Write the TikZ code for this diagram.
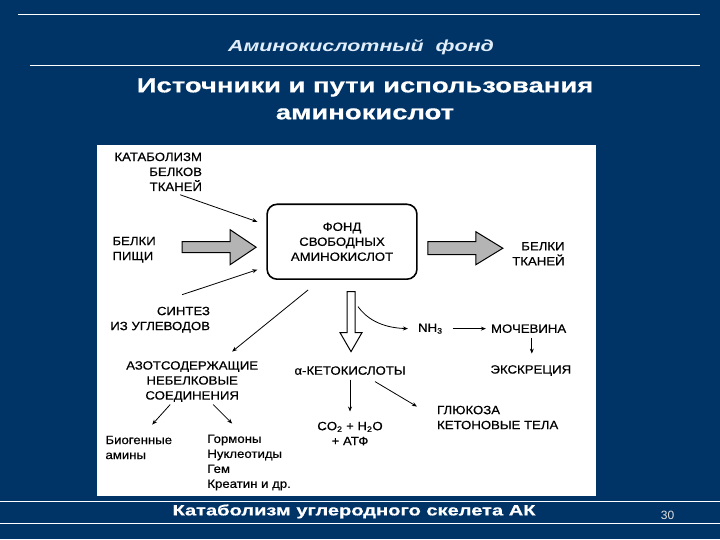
\documentclass[tikz,border=0pt]{standalone}
\usepackage{fontspec}
\setmainfont{Liberation Sans}
\newfontfamily\diagfont{Liberation Sans}[FakeStretch=1.1, FakeBold=0.4]
\newfontfamily\headfont{Liberation Sans Bold}[FakeStretch=1.34, FakeBold=0.6]
\newfontfamily\titlefont{Liberation Sans Bold Italic}[FakeStretch=1.34]
\usepackage{xcolor}
\usetikzlibrary{positioning,arrows.meta,calc}

\definecolor{slidebg}{RGB}{0,51,102}
\definecolor{titlefg}{RGB}{225,238,250}
\definecolor{blockgray}{RGB}{180,180,180}

\begin{document}
\begin{tikzpicture}[
  x=1pt, y=-1pt,
  every node/.style={font=\diagfont\fontsize{12}{15}\selectfont},
  lbl/.style={inner sep=0pt, align=center},
  fundbox/.style={
    draw=black, line width=1.6pt, rounded corners=10pt,
    minimum width=150pt, minimum height=75pt,
    align=center, inner sep=0pt, fill=white
  },
  arr/.style={-{Stealth[length=5pt,width=4pt]}, line width=0.8pt},
  bigarr/.style={draw=black, line width=1pt, fill=blockgray},
  hollowarr/.style={draw=black, line width=1pt, fill=white},
  rule/.style={draw=white, line width=0.8pt}
]
  % Slide background and white panel
  \fill[slidebg] (0,0) rectangle (720,540);
  \fill[white] (97,145) rectangle (596,497);

  % Header
  \draw[rule] (18,14) -- (700,14);
  \node[lbl, text=titlefg, font=\titlefont\fontsize{16}{18}\selectfont] (title) at (361,47) {Аминокислотный\ \ фонд};
  \draw[rule] (30,65) -- (700,65);
  \node[lbl, text=white, font=\headfont\fontsize{20.5}{27}\selectfont] (head) at (365,99) {Источники и пути использования\\аминокислот};

  % Sources
  \node[lbl, anchor=east, align=right] (kat) at (202,172) {КАТАБОЛИЗМ\\БЕЛКОВ\\ТКАНЕЙ};
  \node[lbl, anchor=west, align=left] (food) at (112,250) {БЕЛКИ\\ПИЩИ};
  \node[lbl, anchor=east, align=right] (syn) at (210,320) {СИНТЕЗ\\ИЗ УГЛЕВОДОВ};

  % Pool
  \node[fundbox] (fund) at (342,242) {ФОНД\\СВОБОДНЫХ\\АМИНОКИСЛОТ};

  % Uses
  \node[lbl, anchor=east, align=right] (tis) at (565,254) {БЕЛКИ\\ТКАНЕЙ};
  \node[lbl] (nitro) at (192,382) {АЗОТСОДЕРЖАЩИЕ\\НЕБЕЛКОВЫЕ\\СОЕДИНЕНИЯ};
  \node[lbl, anchor=west, align=left] (amines) at (105,448) {Биогенные\\амины};
  \node[lbl, anchor=west, align=left] (horm) at (207,463) {Гормоны\\Нуклеотиды\\Гем\\Креатин и др.};

  % Catabolism
  \node[lbl] (keto) at (350,371) {α-КЕТОКИСЛОТЫ};
  \node[lbl] (co2) at (350,434) {CO\textsubscript{2} + H\textsubscript{2}O\\+ АТФ};
  \node[lbl, anchor=west, align=left] (gluc) at (437,418) {ГЛЮКОЗА\\КЕТОНОВЫЕ ТЕЛА};
  \node[lbl, anchor=west] (nh3) at (418,329) {NH\textsubscript{3}};
  \node[lbl, anchor=west] (urea) at (491,329) {МОЧЕВИНА};
  \node[lbl] (excr) at (531,371) {ЭКСКРЕЦИЯ};

  % Block arrows
  \draw[bigarr] (182,242) -- (230,242) -- (230,230) -- (256,247.5)
    -- (230,265) -- (230,253) -- (182,253) -- cycle;
  \draw[bigarr] (428,242) -- (476,242) -- (476,232) -- (503,248.5)
    -- (476,265) -- (476,255) -- (428,255) -- cycle;
  \draw[hollowarr] (347,292) -- (355,292) -- (355,333) -- (362,333)
    -- (351,352) -- (340,333) -- (347,333) -- cycle;
  \coordinate (shaft) at (358,307);

  % Arrows
  \draw[arr] ($(kat.east)+(-22,23)$) -- ($(fund.west)+(-9,-20)$);
  \draw[arr] ($(syn.east)+(-28,-25)$) -- ($(fund.west)+(-9,28)$);
  \draw[arr] ($(fund.south)+(-34,10)$) -- ($(nitro)+(40,-30)$);
  \draw[arr] ($(nitro)+(-22,23)$) -- ($(amines.west)+(47,-23)$);
  \draw[arr] ($(nitro)+(21,23)$) -- ($(horm.west)+(25,-39)$);
  \draw[arr] (shaft) .. controls (366,318) and (380,328) .. ($(nh3.west)+(-10,0)$);
  \draw[arr] ($(nh3.west)+(35,0)$) -- ($(urea.west)+(-5,0)$);
  \draw[arr] ($(urea.west)+(41,9)$) -- ($(excr)+(1,-17)$);
  \draw[arr] ($(keto)+(0,9)$) -- ($(co2)+(0,-22)$);
  \draw[arr] ($(keto)+(25,11)$) -- ($(gluc.west)+(-20,-11)$);

  % Footer
  \draw[rule] (0,502) -- (720,502);
  \draw[rule] (0,524) -- (720,524);
  \node[lbl, text=white, font=\headfont\fontsize{15}{18}\selectfont] (foot) at (354,512) {Катаболизм углеродного скелета АК};
  \node[lbl, text=gray!25, font=\fontsize{12}{13}\selectfont] (page) at (668,516) {30};
\end{tikzpicture}
\end{document}
